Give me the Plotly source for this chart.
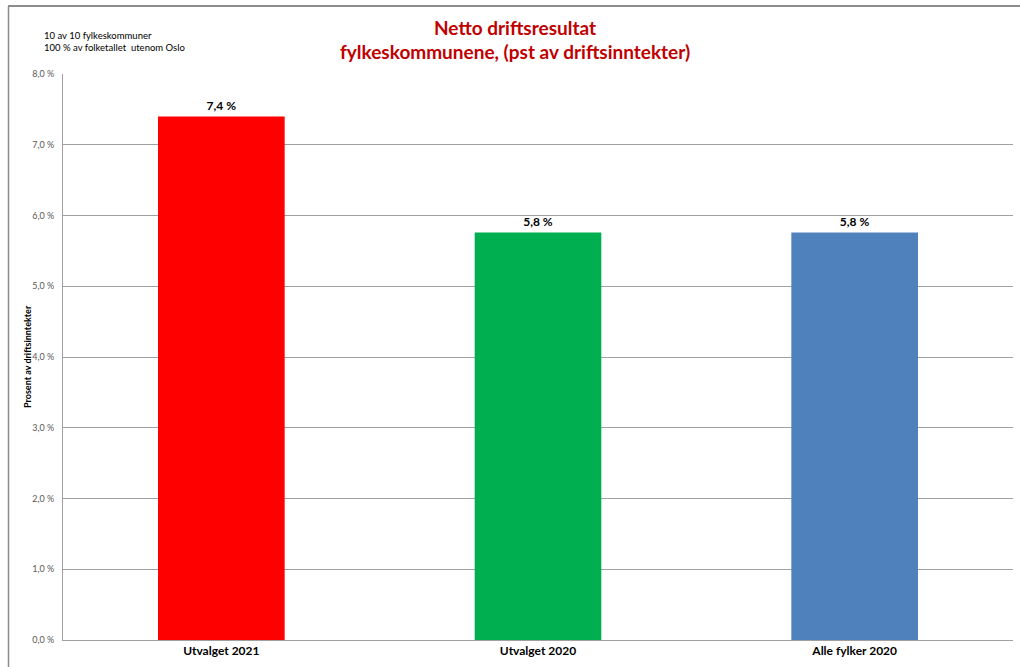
import plotly.graph_objects as go

categories = ["Utvalget 2021", "Utvalget 2020", "Alle fylker 2020"]
values = [7.4, 5.76, 5.76]
colors = ["#FF0000", "#00B050", "#4F81BD"]
tick_vals = [0, 1, 2, 3, 4, 5, 6, 7, 8]
tick_text = ["0,0 %", "1,0 %", "2,0 %", "3,0 %", "4,0 %", "5,0 %", "6,0 %", "7,0 %", "8,0 %"]

FONT = "Lato"

fig = go.Figure()
fig.add_trace(go.Bar(
    x=categories, y=values,
    marker=dict(color=colors, line=dict(width=0)),
    width=0.4,
    texttemplate="%{y:.1f} %",
    textposition="outside",
    textfont=dict(family=FONT, size=12, color="#000000", weight="bold"),
    cliponaxis=False,
))

fig.update_layout(
    width=1020, height=667,
    margin=dict(l=63, r=7, t=74, b=27),
    paper_bgcolor="white", plot_bgcolor="white",
    separators=", ",
    showlegend=False,
    font=dict(family=FONT),
    bargap=0.6,
    xaxis=dict(
        showgrid=False, showline=True, linecolor="#A0A0A0", linewidth=1,
        ticks="", tickfont=dict(family=FONT, size=12, color="#000000", weight="bold"),
        fixedrange=True,
    ),
    yaxis=dict(
        range=[0, 8], tickvals=tick_vals, ticktext=tick_text,
        showgrid=True, gridcolor="#A0A0A0", gridwidth=1,
        showline=True, linecolor="#A0A0A0", linewidth=1,
        zeroline=False, ticks="", ticklabelstandoff=6,
        tickfont=dict(family=FONT, size=9, color="#595959"),
        fixedrange=True,
    ),
)

# y-axis title
fig.add_annotation(
    text="Prosent av driftsinntekter", xref="paper", yref="paper",
    x=(27 - 63) / 950, y=0.5, xanchor="center", yanchor="middle", textangle=-90,
    showarrow=False, font=dict(family=FONT, size=9, color="#000000", weight="bold"),
)

title_font = dict(family=FONT, size=19, color="#C00000", weight="bold")
fig.add_annotation(
    text="Netto driftsresultat", xref="paper", yref="paper",
    x=(515 - 63) / 950, y=(640 - 27) / 566, xanchor="center", yanchor="middle",
    showarrow=False, font=title_font,
)
fig.add_annotation(
    text="fylkeskommunene, (pst av driftsinntekter)", xref="paper", yref="paper",
    x=(515 - 63) / 950, y=(640 - 52) / 566, xanchor="center", yanchor="middle",
    showarrow=False, font=title_font,
)

fig.add_annotation(
    text="10 av 10 fylkeskommuner<br>100 % av folketallet  utenom Oslo",
    xref="paper", yref="paper", x=(42 - 63) / 950, y=(640 - 28) / 566,
    xanchor="left", yanchor="top", align="left", showarrow=False,
    font=dict(family=FONT, size=9.5, color="#000000"),
)

# outer chart border: left edge as a shape
fig.add_shape(type="line", xref="paper", yref="paper", layer="above",
              x0=(8.5 - 63) / 950, x1=(8.5 - 63) / 950,
              y0=(640 - 6.5) / 566, y1=-0.2,
              line=dict(color="#8C8C8C", width=1.5))

# top edge of the outer border, overlaid on the page
top_border_js = (
    "document.body.style.margin='0';document.body.style.overflow='hidden';"
    "var b=document.createElement('div');"
    "b.style.cssText='position:absolute;left:8px;top:5px;width:1012px;height:0;"
    "border-top:2px solid #8C8C8C;z-index:1000;pointer-events:none';"
    "document.body.appendChild(b);"
)

fig.write_html(
    "out.html",
    config={"displayModeBar": False},
    post_script=top_border_js,
)
